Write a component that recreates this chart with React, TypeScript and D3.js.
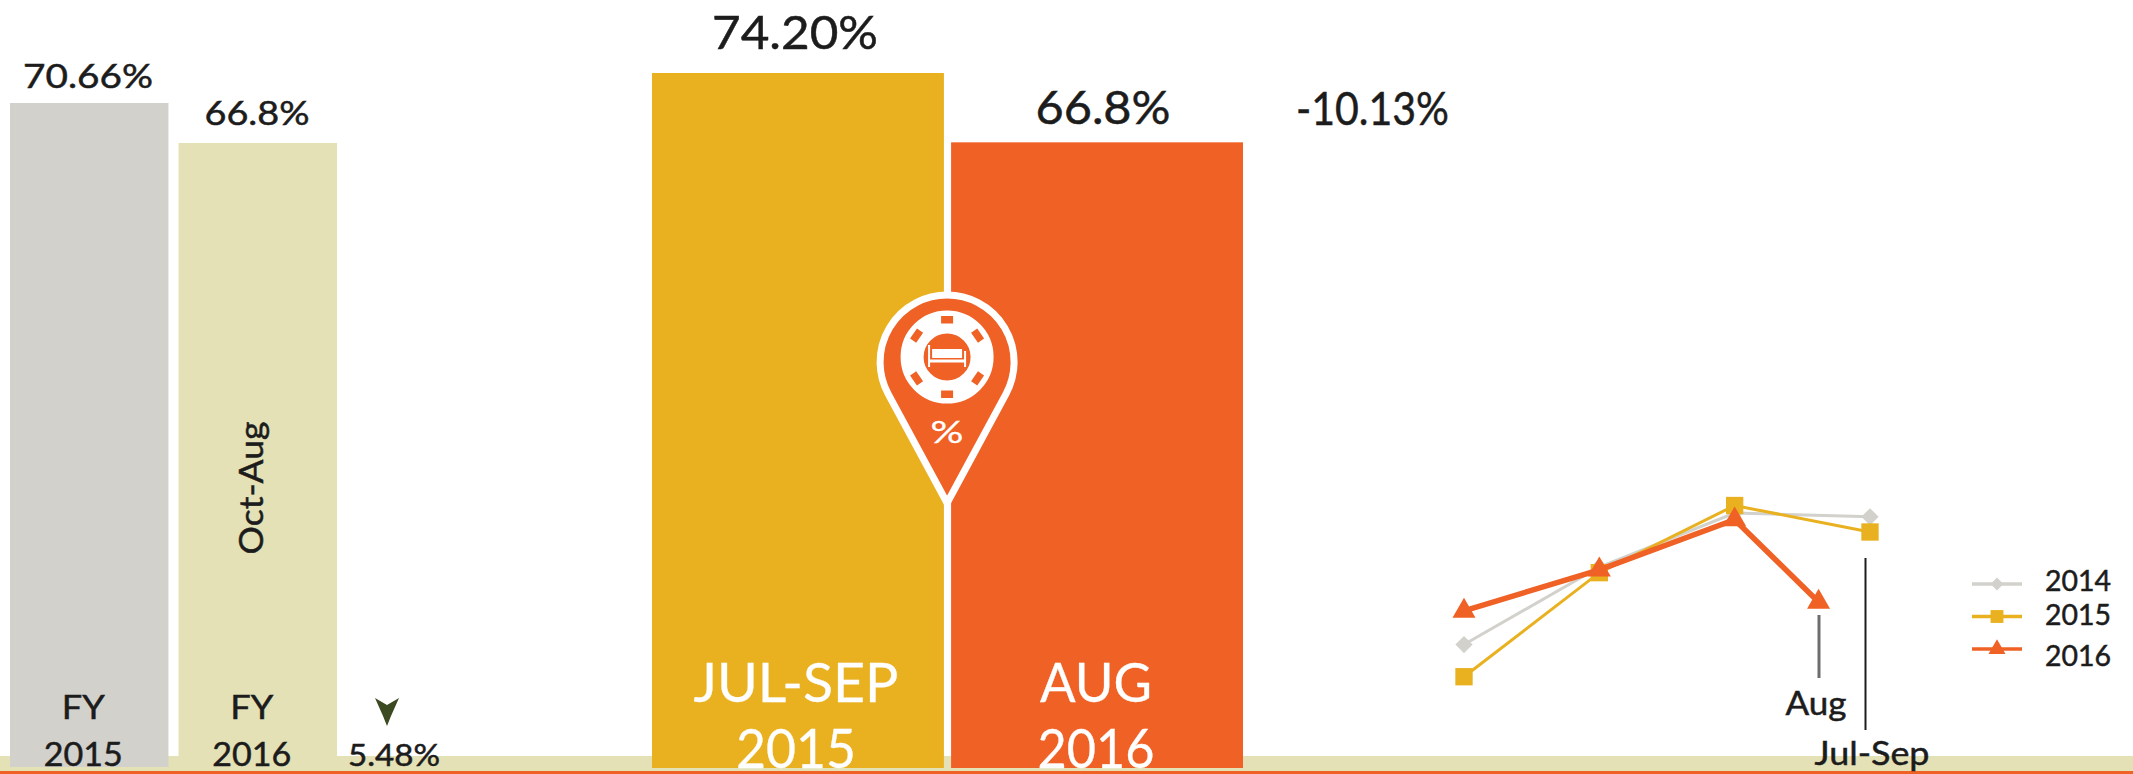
import * as d3 from 'd3';

const W = 2133;
const H = 774;
const FONT = "Lato, 'Noto Sans', sans-serif";

const GREY = '#d2d1cc';
const PALE = '#e3e1b5';
const GOLD = '#e9b120';
const ORANGE = '#ef6125';
const INK = '#1c1c1c';

// left pair
const fyLabels = ['2015', '2016'];
const fyValues = [70.66, 66.8];
const fyText = ['70.66%', '66.8%'];
const fyColors = [GREY, PALE];

// big pair
const periodLabels = ['JUL-SEP', 'AUG'];
const periodYears = ['2015', '2016'];
const periodValues = [74.2, 66.8];
const periodText = ['74.20%', '66.8%'];
const periodColors = [GOLD, ORANGE];

// line chart, x is the position along the quarters
const lineX = [0, 1, 2, 3];
const line2014 = [62.3, 70.5, 76.2, 75.8];
const line2015 = [58.9, 69.9, 77, 74.2];
const line2016 = [65.85, 70.2, 75.5, 66.8];
const line2016X = [0, 1, 2, 2.62]; // Aug only, so it stops short of the last quarter

const legendYears = ['2014', '2015', '2016'];
const legendColors = [GREY, GOLD, ORANGE];

// the original face is wider than Lato, so each label gets squeezed out to its measured width
const Label = ({ x, y, size, len, fill = INK, anchor = 'middle', children }: any) => (
  <text
    x={x}
    y={y}
    fontSize={size}
    fill={fill}
    textAnchor={anchor}
    textLength={len}
    lengthAdjust="spacingAndGlyphs"
    stroke={fill}
    strokeWidth={fill === INK ? 0.5 : 0.3}
  >
    {children}
  </text>
);

export default function App() {
  const xFy = d3.scaleBand<string>().domain(fyLabels).range([10, 337]).paddingInner(0.06);
  const yFy = d3.scaleLinear().domain([6.56, 70.66]).range([767, 103]);

  const xPeriod = d3.scaleBand<string>().domain(periodLabels).range([652, 1243]).paddingInner(0.024);
  const yPeriod = d3.scaleLinear().domain([0, 74.2]).range([768, 73]);

  const xLine = d3.scaleLinear().domain([0, 3]).range([1464, 1870]);
  const yLine = d3.scaleLinear().domain([66.8, 74.2]).range([602, 532]);
  const lineGen = d3
    .line<[number, number]>()
    .x((d) => xLine(d[0]))
    .y((d) => yLine(d[1]));

  const series = [
    { xs: lineX, ys: line2014, color: GREY, width: 3, type: d3.symbolDiamond2, size: 190 },
    { xs: lineX, ys: line2015, color: GOLD, width: 3, type: d3.symbolSquare, size: 300 },
    { xs: line2016X, ys: line2016, color: ORANGE, width: 5.5, type: d3.symbolTriangle, size: 230 },
  ];
  const legendY = d3.scalePoint<string>().domain(legendYears).range([584, 649]);
  const legendBase = [591, 625, 666];

  const fyValueX = [88, 257];
  const fyValueLen = [130, 105];
  const fyValueGap = [15, 18];
  const fyYearLen = [79, 79];
  const periodValueX = [795, 1103];
  const periodValueLen = [166, 135];
  const periodValueGap = [24, 18];
  const periodLabelLen = [205, 112];
  const periodYearLen = [120, 117];

  // pin outline
  const pinX = xPeriod('AUG')! - 4;
  const pinCy = 362;
  const pinR = 67;
  const pinTip = 503;
  const cosT = pinR / (pinTip - pinCy);
  const sinT = Math.sqrt(1 - cosT * cosT);
  const pinPath = `M${pinX},${pinTip} L${pinX - pinR * sinT},${pinCy + pinR * cosT} A${pinR},${pinR} 0 1 1 ${pinX + pinR * sinT},${pinCy + pinR * cosT} Z`;
  const chipY = 357;
  const notchAngles = [0, 55, 125, 180, 235, 305];

  return (
    <svg
      width={W}
      height={H}
      style={{ position: 'absolute', left: 0, top: 0, display: 'block', background: '#fff' }}
      fontFamily={FONT}
    >
      {/* ground band */}
      <rect x={0} y={756} width={W} height={15} fill={PALE} />
      <rect x={0} y={771} width={W} height={3} fill={ORANGE} />

      {/* FY bars */}
      {fyLabels.map((label, i) => {
        const x = xFy(label)!;
        const cx = x + xFy.bandwidth() / 2;
        return (
          <g key={label}>
            <rect x={x} y={yFy(fyValues[i])} width={xFy.bandwidth()} height={767 - yFy(fyValues[i])} fill={fyColors[i]} />
            <Label x={fyValueX[i]} y={yFy(fyValues[i]) - fyValueGap[i]} size={33} len={fyValueLen[i]}>
              {fyText[i]}
            </Label>
            <Label x={cx - 6} y={719} size={33} len={43}>
              FY
            </Label>
            <Label x={cx - 6} y={766} size={33} len={fyYearLen[i]}>
              {label}
            </Label>
          </g>
        );
      })}
      <g transform={`translate(${xFy('2016')! + 84},488) rotate(-90)`}>
        <Label x={0} y={0} size={33} len={133}>
          Oct-Aug
        </Label>
      </g>

      {/* change marker */}
      <path d="M375,698 L387,705 L399,698 L391,716 L387,726 L383,716 Z" fill="#3c4a22" />
      <Label x={394} y={766} size={30} len={92}>
        5.48%
      </Label>

      {/* period bars */}
      {periodLabels.map((label, i) => {
        const x = xPeriod(label)!;
        const cx = x + xPeriod.bandwidth() / 2;
        return (
          <g key={label}>
            <rect x={x} y={yPeriod(periodValues[i])} width={xPeriod.bandwidth()} height={768 - yPeriod(periodValues[i])} fill={periodColors[i]} />
            <Label x={periodValueX[i]} y={yPeriod(periodValues[i]) - periodValueGap[i]} size={47} len={periodValueLen[i]}>
              {periodText[i]}
            </Label>
            <Label x={cx - (i ? 1 : 2)} y={702} size={54} len={periodLabelLen[i]} fill="#fff">
              {label}
            </Label>
            <Label x={cx - (i ? 1 : 2)} y={768} size={54} len={periodYearLen[i]} fill="#fff">
              {periodYears[i]}
            </Label>
          </g>
        );
      })}
      <Label x={1296} y={125} size={47} len={153} anchor="start">
        -10.13%
      </Label>

      {/* pin */}
      <path d={pinPath} fill={ORANGE} stroke="#fff" strokeWidth={7} strokeLinejoin="round" />
      <circle cx={pinX} cy={chipY} r={35} fill="none" stroke="#fff" strokeWidth={23} />
      {notchAngles.map((a) => (
        <rect
          key={a}
          x={pinX - 6}
          y={chipY - 41}
          width={12}
          height={7.5}
          fill={ORANGE}
          transform={`rotate(${a} ${pinX} ${chipY})`}
        />
      ))}
      <g stroke="#fff" fill="none">
        <path d={`M${pinX - 18},${chipY - 12} V${chipY + 10} M${pinX + 18},${chipY - 6} V${chipY + 10}`} strokeWidth={2} />
        <path d={`M${pinX - 18},${chipY + 4} H${pinX + 18}`} strokeWidth={3} />
        <rect x={pinX - 15} y={chipY - 8} width={30} height={9} fill="#fff" stroke="none" />
      </g>
      <Label x={pinX} y={443} size={31} len={33} fill="#fff">
        %
      </Label>

      {/* trend lines */}
      {series.map((s, i) => (
        <g key={i}>
          <path
            d={lineGen(s.xs.map((x, j) => [x, s.ys[j]] as [number, number]))!}
            fill="none"
            stroke={s.color}
            strokeWidth={s.width}
          />
          {s.xs.map((x, j) => (
            <path
              key={j}
              d={d3.symbol().type(s.type).size(s.size)()!}
              transform={`translate(${xLine(x)},${yLine(s.ys[j])})`}
              fill={s.color}
            />
          ))}
        </g>
      ))}

      {/* trend annotations */}
      <line x1={1819} x2={1819} y1={615} y2={678} stroke="#6d6d6d" strokeWidth={3} />
      <Label x={1816} y={715} size={32} len={61}>
        Aug
      </Label>
      <line x1={1865.5} x2={1865.5} y1={558} y2={730} stroke={INK} strokeWidth={2} />
      <Label x={1872} y={765} size={32} len={115}>
        Jul-Sep
      </Label>

      {/* legend */}
      {legendYears.map((year, i) => {
        const y = legendY(year)!;
        return (
          <g key={year}>
            <line x1={1972} x2={2022} y1={y} y2={y} stroke={legendColors[i]} strokeWidth={3.5} />
            <path
              d={d3.symbol().type(series[i].type).size(series[i].size * 0.55)()!}
              transform={`translate(1997,${y})`}
              fill={legendColors[i]}
            />
            <Label x={2045} y={legendBase[i]} size={29} len={66} anchor="start">
              {year}
            </Label>
          </g>
        );
      })}
    </svg>
  );
}
